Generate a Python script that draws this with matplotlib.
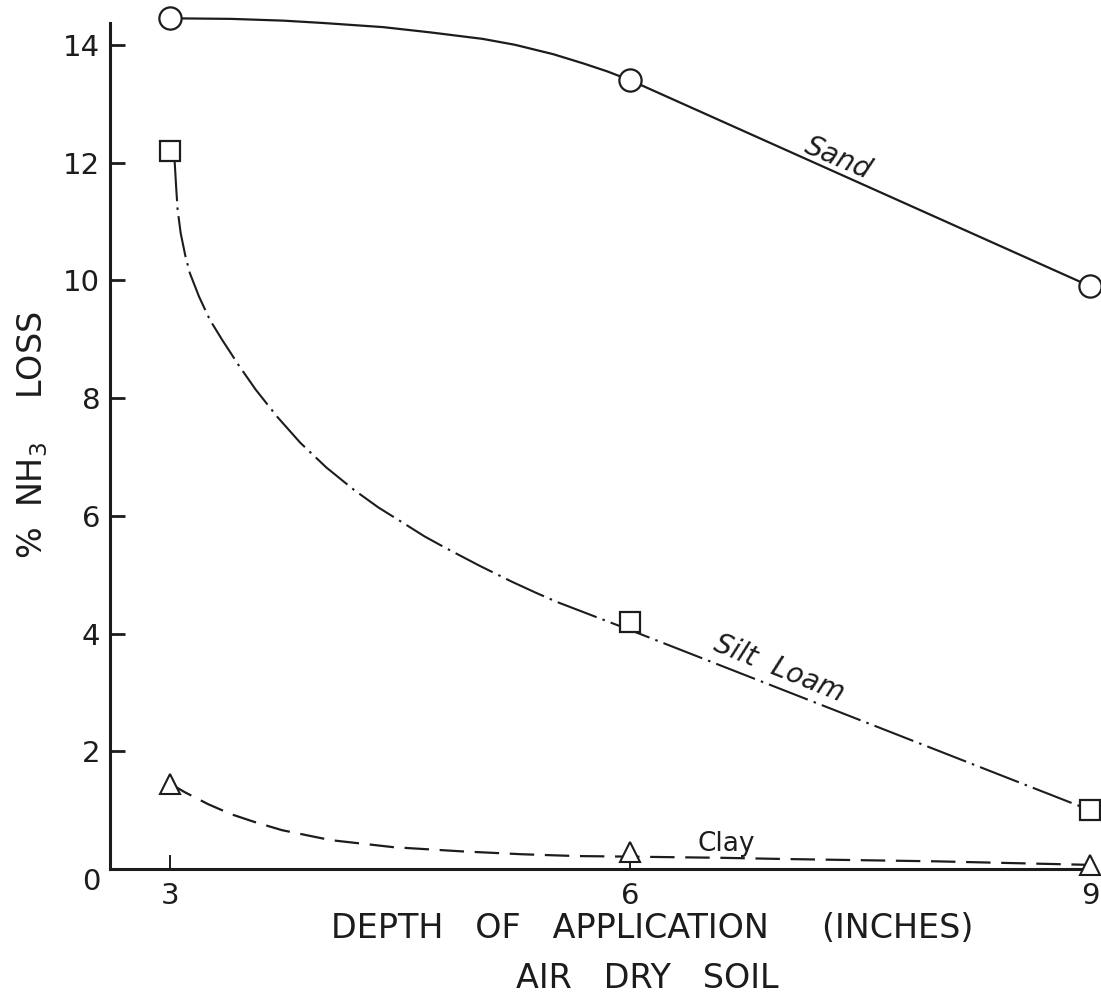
import matplotlib
matplotlib.use("Agg")
import matplotlib.pyplot as plt

plt.rcParams['font.family'] = ['DejaVu Sans']
plt.rcParams['mathtext.default'] = 'regular'

# ---- data ----
depths = [3, 6, 9]
sand = [14.45, 13.4, 9.9]
silt_loam = [12.2, 4.2, 1.0]
clay = [1.45, 0.29, 0.07]

# hand-drawn curve traces
sand_trace_x = [3.0, 3.4, 3.74, 4.0, 4.39, 4.7, 5.04, 5.25, 5.5, 5.7, 5.85, 6.0, 9.0]
sand_trace_y = [14.45, 14.44, 14.41, 14.37, 14.30, 14.21, 14.10, 14.00, 13.84, 13.68, 13.55, 13.4, 9.9]
silt_trace_x = [3.03, 3.04, 3.05, 3.07, 3.10, 3.13, 3.19, 3.26, 3.34, 3.45, 3.56, 3.70, 3.85,
                4.02, 4.20, 4.36, 4.52, 4.66, 4.80, 5.02, 5.23, 5.38, 5.52, 5.72, 5.91, 6.0, 9.0]
silt_trace_y = [12.05, 11.6, 11.2, 10.8, 10.42, 10.12, 9.72, 9.33, 8.99, 8.55, 8.14, 7.68, 7.24,
                6.82, 6.44, 6.14, 5.88, 5.65, 5.45, 5.15, 4.88, 4.70, 4.54, 4.34, 4.15, 4.06, 1.0]
clay_trace_x = [3.0, 3.1, 3.25, 3.4, 3.55, 3.73, 4.05, 4.46, 4.9, 5.3, 5.65, 6.0, 6.6, 7.0, 8.0, 8.5, 9.0]
clay_trace_y = [1.45, 1.30, 1.10, 0.93, 0.80, 0.66, 0.49, 0.37, 0.30, 0.25, 0.22, 0.21, 0.19, 0.17, 0.13, 0.10, 0.07]

x_ticks = [3, 6, 9]
y_ticks = [2, 4, 6, 8, 10, 12, 14]
x_label = "DEPTH   OF   APPLICATION     (INCHES)"
sub_label = "AIR   DRY   SOIL"
y_label = "%  NH$_3$    LOSS"

ink = "#1c1c1c"

fig = plt.figure(figsize=(11.01, 9.97), dpi=100)
ax = fig.add_axes([110/1101, 1-869/997, (1095-110)/1101, (869-23)/997])
ax.set_xlim(2.609, 9.033)
ax.set_ylim(0, 14.37)

for s in ['top', 'right']:
    ax.spines[s].set_visible(False)
for s in ['left', 'bottom']:
    ax.spines[s].set_linewidth(2.2)
    ax.spines[s].set_color(ink)

# curves
ax.plot(sand_trace_x, sand_trace_y, color=ink, lw=1.6, solid_capstyle='round',
        solid_joinstyle='round', clip_on=False)
ax.plot(silt_trace_x, silt_trace_y, color=ink, lw=1.5, dashes=(20, 3, 1.2, 3), clip_on=False)
ax.plot(clay_trace_x, clay_trace_y, color=ink, lw=1.6, dashes=(11, 4.8), clip_on=False)

# markers
ax.plot(depths, sand, linestyle='none', marker='o', ms=16, mfc='white', mec=ink, mew=1.6, clip_on=False, zorder=5)
ax.plot(depths, silt_loam, linestyle='none', marker='s', ms=15, mfc='white', mec=ink, mew=1.6, clip_on=False, zorder=5)
ax.plot(depths, clay, linestyle='none', marker='^', ms=15, mfc='white', mec=ink, mew=1.5, clip_on=False, zorder=5)

# ticks
ax.set_xticks(x_ticks)
ax.set_xticklabels([str(v) for v in x_ticks])
ax.set_yticks(y_ticks)
ax.set_yticklabels([str(v) for v in y_ticks])
ax.tick_params(axis='y', direction='in', length=11, width=2.0, pad=7, labelsize=21, colors=ink)
ax.tick_params(axis='x', direction='in', length=10, width=1.4, pad=9, labelsize=21, colors=ink)
ax.annotate("0", xy=(0, 0), xycoords=('axes fraction', 'data'), xytext=(-7, -9),
            textcoords='offset points', ha='right', va='center', fontsize=21, color=ink)

# curve labels
ax.text(7.36, 12.08, "Sand", rotation=-23, rotation_mode='anchor', ha='center', va='center',
        fontsize=20, style='italic', color=ink)
ax.text(6.97, 3.41, "Silt  Loam", rotation=-22, rotation_mode='anchor', ha='center', va='center',
        fontsize=20, style='italic', color=ink)
ax.text(6.63, 0.42, "Clay", ha='center', va='center', fontsize=19, color=ink)

# axis titles
fig.text(331/1101, 1-928/997, x_label, ha='left', va='center', fontsize=24, color=ink)
fig.text(516/1101, 1-978/997, sub_label, ha='left', va='center', fontsize=24, color=ink)
fig.text(33/1101, 1-435/997, y_label, rotation=90, ha='center', va='center', fontsize=24, color=ink)

fig.savefig("out.png", dpi=100)
